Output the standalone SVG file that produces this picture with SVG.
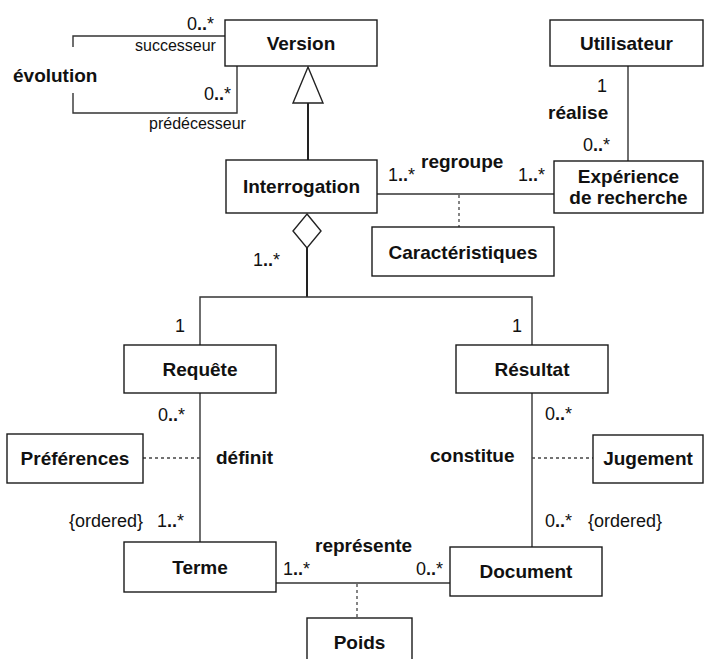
<svg xmlns="http://www.w3.org/2000/svg" width="705" height="659" viewBox="0 0 705 659">
<style>
.box{fill:#fff;stroke:#1a1a1a;stroke-width:1.4}
.nm{font-family:"Liberation Sans",Arial,sans-serif;font-weight:bold;font-size:19px;fill:#111;text-anchor:middle}
.lbl{font-family:"Liberation Sans",Arial,sans-serif;font-weight:bold;font-size:19px;fill:#111}
.mul{font-family:"Liberation Sans",Arial,sans-serif;font-size:18px;fill:#111}
.role{font-family:"Liberation Sans",Arial,sans-serif;font-size:16px;fill:#111}
.ln{fill:none;stroke:#333;stroke-width:1.4}
.thk{fill:none;stroke:#222;stroke-width:2}
.dash{fill:none;stroke:#444;stroke-width:1.3;stroke-dasharray:3 3}
.b{font-weight:bold}
</style>
<rect width="705" height="659" fill="#fff"/>
<g id="connectors">
<polyline class="ln" points="225,36 73,36 73,47"/>
<polyline class="ln" points="73,93 73,113 237,113 237,66"/>
<line class="thk" x1="308" y1="103" x2="308" y2="160"/>
<polygon points="308,67 323,103 293,103" fill="#fff" stroke="#222" stroke-width="1.4"/>
<line class="ln" x1="628" y1="66" x2="628" y2="161"/>
<line class="ln" x1="377" y1="194" x2="554" y2="194"/>
<line class="dash" x1="459" y1="195" x2="459" y2="227"/>
<line class="thk" x1="307" y1="248" x2="307" y2="297"/>
<polygon points="307,214 321,231 307,248 293,231" fill="#fff" stroke="#222" stroke-width="1.4"/>
<polyline class="ln" points="200,345 200,297 532,297 532,345"/>
<line class="ln" x1="200" y1="393" x2="200" y2="542"/>
<line class="dash" x1="143" y1="458" x2="200" y2="458"/>
<line class="ln" x1="532" y1="393" x2="532" y2="547"/>
<line class="dash" x1="532" y1="458" x2="593" y2="458"/>
<line class="ln" x1="276" y1="583" x2="450" y2="583"/>
<line class="dash" x1="357" y1="584" x2="357" y2="618"/>
</g>
<g id="labels">
<text class="mul" x="187" y="30">0<tspan class="b">..</tspan>*</text>
<text class="role" x="135" y="51">successeur</text>
<text class="lbl" x="13" y="82">évolution</text>
<text class="mul" x="204" y="100">0<tspan class="b">..</tspan>*</text>
<text class="role" x="149" y="129">prédécesseur</text>
<text class="mul" x="597" y="92">1</text>
<text class="lbl" x="548" y="119">réalise</text>
<text class="mul" x="583" y="151">0<tspan class="b">..</tspan>*</text>
<text class="lbl" x="421" y="168">regroupe</text>
<text class="mul" x="388" y="181">1<tspan class="b">..</tspan>*</text>
<text class="mul" x="518" y="181">1<tspan class="b">..</tspan>*</text>
<text class="mul" x="253" y="266">1<tspan class="b">..</tspan>*</text>
<text class="mul" x="175" y="332">1</text>
<text class="mul" x="512" y="332">1</text>
<text class="mul" x="158" y="421">0<tspan class="b">..</tspan>*</text>
<text class="mul" x="545" y="420">0<tspan class="b">..</tspan>*</text>
<text class="lbl" x="216" y="464">définit</text>
<text class="lbl" x="430" y="462">constitue</text>
<text class="mul" x="69" y="527">{ordered}</text>
<text class="mul" x="157" y="527">1<tspan class="b">..</tspan>*</text>
<text class="mul" x="545" y="527">0<tspan class="b">..</tspan>*</text>
<text class="mul" x="588" y="527">{ordered}</text>
<text class="lbl" x="315" y="552">représente</text>
<text class="mul" x="283" y="575">1<tspan class="b">..</tspan>*</text>
<text class="mul" x="416" y="575">0<tspan class="b">..</tspan>*</text>
</g>
<g id="Version"><rect class="box" x="225" y="20" width="152" height="46"/><text class="nm" x="301" y="50">Version</text></g>
<g id="Utilisateur"><rect class="box" x="550" y="20" width="153" height="46"/><text class="nm" x="626.5" y="50">Utilisateur</text></g>
<g id="Interrogation"><rect class="box" x="226" y="160" width="151" height="53"/><text class="nm" x="301.5" y="193">Interrogation</text></g>
<g id="Experience"><rect class="box" x="554" y="161" width="149" height="52"/><text class="nm" x="628.5" y="183">Expérience</text><text class="nm" x="628.5" y="204">de recherche</text></g>
<g id="Caracteristiques"><rect class="box" x="372" y="227" width="182" height="49"/><text class="nm" x="463" y="259">Caractéristiques</text></g>
<g id="Requete"><rect class="box" x="124" y="345" width="152" height="48"/><text class="nm" x="200" y="376">Requête</text></g>
<g id="Resultat"><rect class="box" x="456" y="345" width="152" height="48"/><text class="nm" x="532" y="376">Résultat</text></g>
<g id="Preferences"><rect class="box" x="7" y="434" width="136" height="49"/><text class="nm" x="75" y="465">Préférences</text></g>
<g id="Jugement"><rect class="box" x="593" y="435" width="110" height="48"/><text class="nm" x="648" y="465">Jugement</text></g>
<g id="Terme"><rect class="box" x="124" y="542" width="152" height="50"/><text class="nm" x="200" y="574">Terme</text></g>
<g id="Document"><rect class="box" x="450" y="547" width="152" height="49"/><text class="nm" x="526" y="578">Document</text></g>
<g id="Poids"><rect class="box" x="307" y="618" width="105" height="50"/><text class="nm" x="359.5" y="649">Poids</text></g>
</svg>
